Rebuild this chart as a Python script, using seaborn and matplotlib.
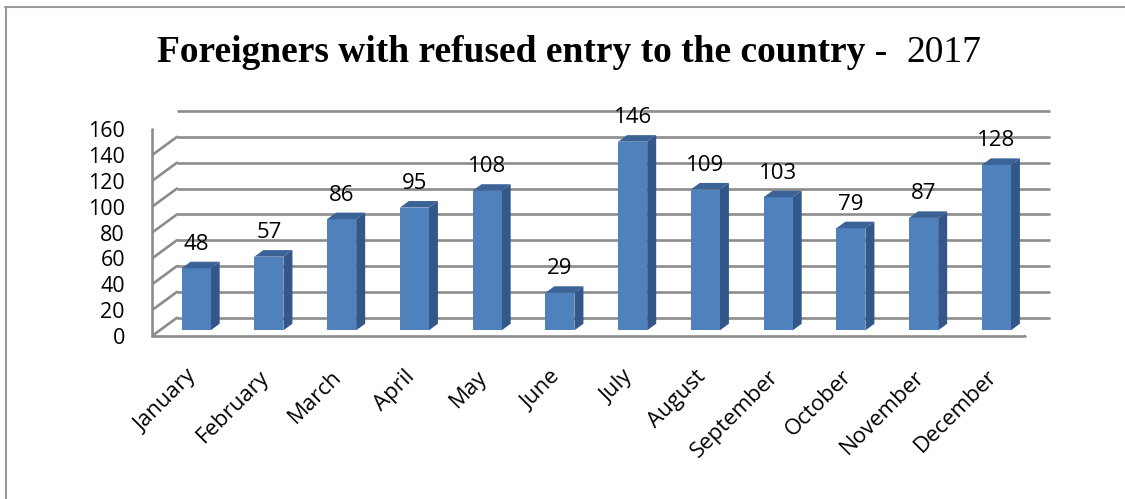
import numpy as np
import pandas as pd
import matplotlib
matplotlib.use("Agg")
import matplotlib.pyplot as plt
import matplotlib.transforms as mtransforms
from matplotlib.patches import Polygon
from matplotlib.lines import Line2D
import seaborn as sns

# Monthly counts of foreigners refused entry, 2017
months = ["January", "February", "March", "April", "May", "June",
          "July", "August", "September", "October", "November", "December"]
refused = [48, 57, 86, 95, 108, 29, 146, 109, 103, 79, 87, 128]
y_ticks = [0, 20, 40, 60, 80, 100, 120, 140, 160]

df = pd.DataFrame({"month": months, "refused": refused})

sns.set_style("white")
plt.rcParams["font.family"] = ["Open Sans", "DejaVu Sans"]
plt.rcParams["text.color"] = "black"

FRONT = "#4F81BD"
SIDE = "#34578A"
TOP = "#3C6397"
GRID = "#8C8C8C"
GRID_LW = 1.9

W, H = 1125, 499
fig = plt.figure(figsize=(W / 100, H / 100), dpi=100)
ax = fig.add_axes([152 / W, (H - 336) / H, 873 / W, 206.7 / H])

sns.barplot(data=df, x="month", y="refused", color=FRONT, width=0.4,
            saturation=1, edgecolor="none", ax=ax, zorder=3)
ax.set_xlim(-0.5, len(months) - 0.5)
ax.set_ylim(0, y_ticks[-1])
for s in ax.spines.values():
    s.set_visible(False)
ax.set_xlabel("")
ax.set_ylabel("")

# oblique depth (pixels) of the floor and of the bars
DEPTH = np.array([25.0, 18.3])
BAR_D0, BAR_D1 = 0.31, 0.67


def shifted(frac):
    dx, dy = DEPTH * frac
    return mtransforms.offset_copy(ax.transData, fig=fig, x=dx, y=dy, units="dots")


back = shifted(1.0)
x0, x1 = ax.get_xlim()
ident = mtransforms.IdentityTransform()

# back wall gridlines
for v in y_ticks:
    ax.plot([x0, x1], [v, v], color=GRID, lw=GRID_LW, transform=back,
            clip_on=False, zorder=1, solid_capstyle="butt")

# left wall: front edge and diagonals for every tick
ax.plot([x0, x0], [0, y_ticks[-1]], color=GRID, lw=GRID_LW, clip_on=False, zorder=1)
for v in y_ticks:
    p0 = ax.transData.transform((x0, v))
    p1 = p0 + DEPTH
    ax.add_artist(Line2D([p0[0], p1[0]], [p0[1], p1[1]], color=GRID,
                         lw=GRID_LW, transform=ident, zorder=1))

# floor front edge and right edge
ax.plot([x0, x1], [0, 0], color=GRID, lw=GRID_LW, clip_on=False, zorder=1)
q0 = ax.transData.transform((x1, 0))
q1 = q0 + DEPTH
ax.add_artist(Line2D([q0[0], q1[0]], [q0[1], q1[1]], color=GRID, lw=GRID_LW,
                     transform=ident, zorder=1))

# bars: shift front faces into the floor and add side and top faces
bar_front = shifted(BAR_D0)
off0 = DEPTH * BAR_D0
off1 = DEPTH * BAR_D1
for patch, val in zip(ax.patches, refused):
    patch.set_transform(bar_front)
    bx, by = patch.get_x(), patch.get_y()
    bw, bh = patch.get_width(), patch.get_height()
    fl = ax.transData.transform((bx, by + bh)) + off0
    fr = ax.transData.transform((bx + bw, by + bh)) + off0
    br = ax.transData.transform((bx + bw, by)) + off0
    side = Polygon([br, fr, fr - off0 + off1, br - off0 + off1], closed=True,
                   facecolor=SIDE, edgecolor="none", transform=ident, zorder=2.9)
    top = Polygon([fl, fr, fr - off0 + off1, fl - off0 + off1], closed=True,
                  facecolor=TOP, edgecolor="none", transform=ident, zorder=3.1)
    ax.add_artist(side)
    ax.add_artist(top)
    lbl = mtransforms.offset_copy(ax.transData, fig=fig, x=off0[0],
                                  y=off0[1] + 18.5, units="dots")
    ax.text(bx + bw / 2, by + bh, f"{val}", transform=lbl, ha="center",
            va="baseline", fontsize=16, color="black", zorder=4)

# axis labels
ax.set_yticks(y_ticks)
ax.set_yticklabels([str(v) for v in y_ticks])
ax.tick_params(axis="y", length=0, pad=19.5, labelsize=15.5, colors="black")
ax.tick_params(axis="x", length=0, pad=27, labelsize=16, colors="black")
shift = mtransforms.ScaledTranslation(5 / 100, 0, fig.dpi_scale_trans)
for t in ax.get_xticklabels():
    t.set_rotation(45)
    t.set_ha("right")
    t.set_va("center")
    t.set_rotation_mode("anchor")
    t.set_transform(t.get_transform() + shift)

# title: bold text followed by a regular-weight year
fig.canvas.draw()
renderer = fig.canvas.get_renderer()
t1 = fig.text(0, 0, "Foreigners with refused entry to the country -  ",
              family="Liberation Serif", weight="bold", fontsize=27,
              ha="left", va="baseline", color="black")
t2 = fig.text(0, 0, "2017", family="Liberation Serif", weight="normal",
              fontsize=27, ha="left", va="baseline", color="black")
w1 = t1.get_window_extent(renderer).width
w2 = t2.get_window_extent(renderer).width
left = (569 - (w1 + w2) / 2) / W
base = (H - 62) / H
t1.set_position((left, base))
t2.set_position((left + w1 / W, base))

# chart frame (top and left edges)
fig.add_artist(Line2D([5 / W, 1.0], [1 - 7 / H, 1 - 7 / H], color="#9A9A9A",
                      lw=1.5, transform=fig.transFigure))
fig.add_artist(Line2D([6 / W, 6 / W], [0, 1 - 7 / H], color="#9A9A9A",
                      lw=1.5, transform=fig.transFigure))

fig.savefig("out.png", dpi=100, facecolor="white")
